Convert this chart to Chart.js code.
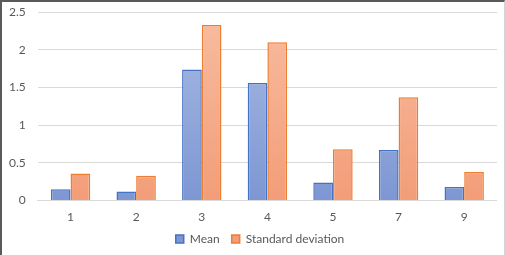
<!DOCTYPE html>
<html>
<head>
<meta charset="utf-8">
<script src="https://cdn.jsdelivr.net/npm/chart.js@4.4.1/dist/chart.umd.min.js"></script>
<style>
  html, body { margin: 0; padding: 0; background: #fff; }
  #frame {
    width: 505px; height: 255px; box-sizing: border-box;
    border-left: 2px solid #5a5a5a; border-top: 2px solid #5a5a5a;
    border-right: 1px solid #d4d4d4;
    overflow: hidden;
  }
  #chart { display: block; margin-top: -9px; margin-left: -5px; }
</style>
</head>
<body>
<div id="frame"><canvas id="chart" width="500" height="274"></canvas></div>
<script>
var categories = ["1", "2", "3", "4", "5", "7", "9"];
var meanValues = [0.15, 0.12, 1.74, 1.56, 0.24, 0.67, 0.18];
var stdValues = [0.36, 0.33, 2.33, 2.10, 0.68, 1.37, 0.38];
var seriesNames = ["Mean", "Standard deviation"];

function vGradient(top, bottom){
  return function(context){
    var area = context.chart.chartArea;
    if (!area) return bottom;
    var g = context.chart.ctx.createLinearGradient(0, area.top, 0, area.bottom);
    g.addColorStop(0, top);
    g.addColorStop(1, bottom);
    return g;
  };
}

// nudge the legend up and right so it sits like the original
var legendNudge = {
  id: 'legendNudge',
  afterLayout: function(chart){
    var lg = chart.legend;
    if (!lg) return;
    lg.top -= 12; lg.bottom -= 12;
    lg.left += 13; lg.right += 13;
  }
};

var ctx = document.getElementById("chart");
var myChart = new Chart(ctx, {
  type: 'bar',
  data: {
    labels: categories,
    datasets: [
      {
        label: seriesNames[0],
        data: meanValues,
        backgroundColor: vGradient('#a9bbe3', '#7d97d3'),
        borderColor: '#4472c4',
        borderWidth: 1.5
      },
      {
        label: seriesNames[1],
        data: stdValues,
        backgroundColor: vGradient('#f8bca0', '#f39d78'),
        borderColor: '#ed7d31',
        borderWidth: 1.5
      }
    ]
  },
  plugins: [legendNudge],
  options: {
    responsive: false,
    animation: false,
    layout: { padding: 0 },
    datasets: { bar: { categoryPercentage: 0.6, barPercentage: 1.0 } },
    plugins: {
      tooltip: { enabled: false },
      legend: {
        position: 'bottom',
        labels: {
          boxWidth: 8, boxHeight: 8, padding: 12,
          color: '#595959',
          font: { family: 'Lato', size: 12 }
        }
      }
    },
    scales: {
      x: {
        grid: { display: false, drawTicks: false },
        border: { color: '#d9d9d9', width: 1 },
        ticks: { color: '#595959', padding: 9, font: { family: 'Lato', size: 12 } }
      },
      y: {
        min: 0, max: 2.5,
        grid: { color: '#d9d9d9', drawTicks: false },
        border: { display: false },
        ticks: {
          stepSize: 0.5, color: '#595959', padding: 12,
          font: { family: 'Lato', size: 12 },
          callback: function(v){ return String(+v.toFixed(1)); }
        }
      }
    }
  }
});
</script>
</body>
</html>
